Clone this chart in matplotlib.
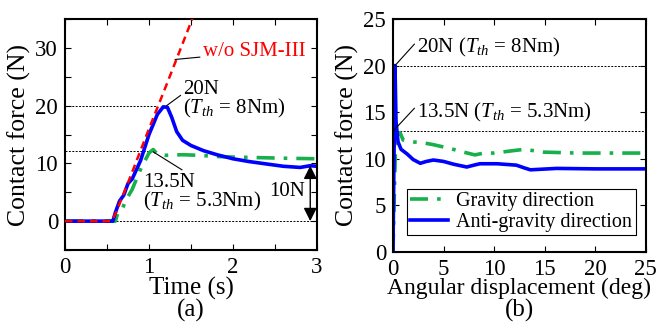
import matplotlib
matplotlib.use("Agg")
import matplotlib.pyplot as plt
from matplotlib.ticker import MultipleLocator

plt.rcParams['font.family'] = ['Liberation Serif', 'DejaVu Serif']
plt.rcParams['mathtext.fontset'] = 'custom'
plt.rcParams['mathtext.rm'] = 'Liberation Serif'
plt.rcParams['mathtext.it'] = 'Liberation Serif:italic'

# (a) contact force vs time
t_red = [0, 0.3, 0.55, 0.6, 0.8, 1.0, 1.2, 1.52]
f_red = [0, 0, 0, 1.2, 8.5, 16.0, 23.3, 35.2]

t_blue = [0, 0.3, 0.57, 0.6, 0.65, 0.7, 0.75, 0.8, 0.9, 1.0, 1.1, 1.17, 1.22, 1.27,
          1.33, 1.4, 1.5, 1.65, 1.81, 2.0, 2.2, 2.4, 2.6, 2.8, 2.92, 3.0]
f_blue = [0, 0, 0, 1.5, 3.5, 4.5, 6.5, 7.3, 10.5, 15.0, 18.5, 19.8, 19.7, 18.0,
          15.5, 14.0, 13.1, 12.2, 11.5, 10.8, 10.3, 9.9, 9.5, 9.3, 9.6, 9.5]

t_green = [0, 0.3, 0.6, 0.63, 0.68, 0.72, 0.8, 0.9, 1.0, 1.05, 1.1, 1.2, 1.4, 1.6,
           1.8, 2.0, 2.3, 2.6, 3.0]
f_green = [0, 0, 0, 1.5, 2.0, 3.5, 5.5, 9.0, 11.8, 12.4, 11.6, 11.4, 11.5, 11.4,
           11.2, 11.1, 11.0, 10.9, 10.8]

# (b) contact force vs angular displacement
th_grav = [0, 0.15, 0.3, 0.5, 0.7, 1.0, 2.0, 3.0, 4.0, 5.6, 7.0, 8.1, 9.0, 10.0,
           12.2, 13.0, 14.9, 18.2, 22.8, 25]
f_grav = [0, 7, 13, 12.6, 12.8, 12.0, 11.8, 11.7, 11.5, 11.1, 10.7, 10.4, 10.6, 10.6,
          10.9, 11.0, 10.7, 10.6, 10.6, 10.6]

th_anti = [0, 0.1, 0.2, 0.3, 0.5, 0.8, 1.4, 2.0, 2.7, 3.3, 4.0, 5.0, 6.0, 7.3, 8.0,
           8.6, 10.3, 12.2, 13.0, 13.6, 16.2, 20, 25]
f_anti = [0, 10, 20, 14, 11.8, 11.0, 10.5, 9.9, 9.5, 9.7, 9.85, 9.7, 9.4, 9.1, 9.3,
          9.45, 9.45, 9.3, 9.0, 8.8, 8.95, 8.9, 8.9]

GREEN = '#17b04c'
dashdot = (0, (5, 2.5, 1, 2.5))
dotted = (0, (2, 1.5))

fig = plt.figure(figsize=(6.68, 3.23), dpi=100)
ax1 = fig.add_axes([0.0973, 0.226, 0.3772, 0.715])
ax2 = fig.add_axes([0.5883, 0.2207, 0.3783, 0.7204])


def style(ax):
    ax.tick_params(which='both', direction='in', top=True, right=True,
                   length=4, width=0.8, labelsize=16.5, pad=5)
    for s in ax.spines.values():
        s.set_linewidth(1.5)


# ---- (a)
ax1.axhline(0, color='k', ls=dotted, lw=0.7, zorder=1)
ax1.plot([0, 1.09], [20, 20], color='k', ls=dotted, lw=0.7, zorder=1)
ax1.plot([0, 1.05], [12.2, 12.2], color='k', ls=dotted, lw=0.7, zorder=1)
ax1.plot(t_red, f_red, color='red', ls=(0, (3, 2)), lw=1.8, zorder=3)
ax1.plot(t_green, f_green, color=GREEN, ls=dashdot, lw=2.6, zorder=2)
ax1.plot(t_blue, f_blue, color='blue', lw=2.6, zorder=2)

ax1.set_xlim(0, 3)
ax1.set_ylim(-5, 35)
ax1.xaxis.set_major_locator(MultipleLocator(1))
ax1.xaxis.set_minor_locator(MultipleLocator(0.5))
ax1.yaxis.set_major_locator(MultipleLocator(10))
ax1.yaxis.set_minor_locator(MultipleLocator(5))
style(ax1)
ax1.set_xlabel('Time (s)', fontsize=18, labelpad=-1)
ax1.set_ylabel('Contact force (N)', fontsize=18.5, labelpad=3)

ax1.annotate('w/o SJM-III', xy=(1.31, 28), xytext=(1.64, 29.3), color='red',
             fontsize=15, va='center',
             arrowprops=dict(arrowstyle='-', color='k', lw=0.8, shrinkA=0, shrinkB=0))
ax1.annotate('20N\n($T_{th}$ = 8Nm)', xy=(1.21, 20), xytext=(1.41, 21),
             fontsize=15, va='center', ha='left', multialignment='left',
             linespacing=0.9,
             arrowprops=dict(arrowstyle='-', color='k', lw=0.8, shrinkA=0, shrinkB=0,
                             relpos=(0.1, 0.85)))
ax1.annotate('13.5N\n($T_{th}$ = 5.3Nm)', xy=(1.05, 12), xytext=(0.93, 4.9),
             fontsize=15, va='center', ha='left', multialignment='left',
             linespacing=0.9,
             arrowprops=dict(arrowstyle='-', color='k', lw=0.8, shrinkA=0, shrinkB=0,
                             relpos=(0.45, 0.85)))
ax1.annotate('', xy=(2.92, 0), xytext=(2.92, 9.6),
             arrowprops=dict(arrowstyle='<|-|>', color='k', lw=1.0, mutation_scale=20,
                             shrinkA=0, shrinkB=0))
ax1.text(2.86, 5.2, '10N', fontsize=15, ha='right', va='center')

# ---- (b)
ax2.axhline(20, color='k', ls=dotted, lw=0.7, zorder=1)
ax2.axhline(13, color='k', ls=dotted, lw=0.7, zorder=1)
ax2.plot(th_grav, f_grav, color=GREEN, ls=dashdot, lw=2.6, label='Gravity direction', zorder=2)
ax2.plot(th_anti, f_anti, color='blue', lw=2.6, label='Anti-gravity direction', zorder=2)
ax2.set_xlim(0, 25)
ax2.set_ylim(0, 25)
ax2.xaxis.set_major_locator(MultipleLocator(5))
ax2.yaxis.set_major_locator(MultipleLocator(5))
style(ax2)
ax2.set_xlabel('Angular displacement (deg)', fontsize=17, labelpad=-1)
ax2.set_ylabel('Contact force (N)', fontsize=18.5, labelpad=3)

ax2.annotate('20N ($T_{th}$ = 8Nm)', xy=(0.2, 20), xytext=(2.4, 21.9),
             fontsize=15, va='center',
             arrowprops=dict(arrowstyle='-', color='k', lw=0.8, shrinkA=0, shrinkB=0,
                             relpos=(0, 0.8)))
ax2.annotate('13.5N ($T_{th}$ = 5.3Nm)', xy=(0.05, 13), xytext=(2.4, 15.0),
             fontsize=15, va='center',
             arrowprops=dict(arrowstyle='-', color='k', lw=0.8, shrinkA=0, shrinkB=0,
                             relpos=(0, 0.8)))

leg = ax2.legend(loc='lower left', bbox_to_anchor=(0.054, 0.072, 0.906, 0.172),
                 mode='expand', fontsize=14.5, handlelength=1.9, handletextpad=0.4,
                 borderpad=0.15, labelspacing=0.1, borderaxespad=0,
                 fancybox=False, framealpha=1, edgecolor='k')
leg.get_frame().set_linewidth(0.8)

fig.text(0.286, 0.04, '(a)', fontsize=18, ha='center', va='center')
fig.text(0.777, 0.04, '(b)', fontsize=18, ha='center', va='center')

fig.savefig('out.png', dpi=100)
